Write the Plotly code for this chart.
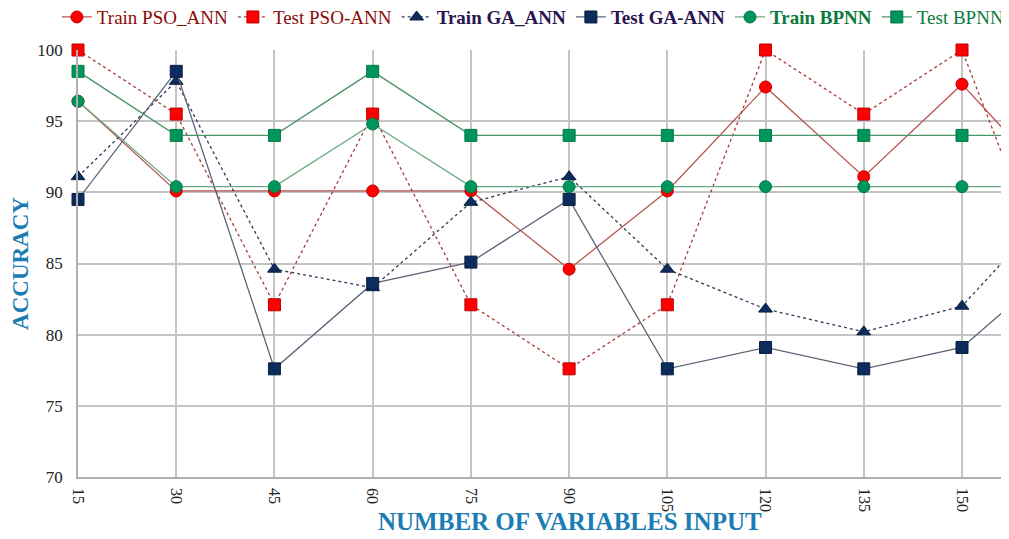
import plotly.graph_objects as go

x_vals = [15, 30, 45, 60, 75, 90, 105, 120, 135, 150, 165]
x_ticks = [15, 30, 45, 60, 75, 90, 105, 120, 135, 150]

train_pso = [96.4, 90.1, 90.1, 90.1, 90.1, 84.6, 90.1, 97.4, 91.1, 97.6, 90.1]
test_pso = [100.0, 95.5, 82.1, 95.5, 82.1, 77.6, 82.1, 100.0, 95.5, 100.0, 82.1]
train_ga = [91.1, 97.8, 84.6, 83.3, 89.3, 91.1, 84.6, 81.8, 80.2, 82.0, 89.5]
test_ga = [89.5, 98.5, 77.6, 83.6, 85.1, 89.5, 77.6, 79.1, 77.6, 79.1, 85.1]
train_bp = [96.4, 90.4, 90.4, 94.8, 90.4, 90.4, 90.4, 90.4, 90.4, 90.4, 90.4]
test_bp = [98.5, 94.0, 94.0, 98.5, 94.0, 94.0, 94.0, 94.0, 94.0, 94.0, 94.0]

FONT = "Liberation Serif, Times New Roman, serif"

series = [
    ("<span style='color:#8b0a0a'>Train PSO_ANN</span>", train_pso, "circle", "#ff0000", "#c00000", "#b85450", "solid"),
    ("<span style='color:#8b0a0a'>Test PSO-ANN</span>", test_pso, "square", "#ff0000", "#c00000", "#a83a3a", "dot"),
    ("<span style='color:#2a1450'><b>Train GA_ANN</b></span>", train_ga, "triangle-up", "#0c2d5c", "#0a1f40", "#2e3a58", "dot"),
    ("<span style='color:#2a1450'><b>Test GA-ANN</b></span>", test_ga, "square", "#0c2d5c", "#0a1f40", "#5a6478", "solid"),
    ("<span style='color:#0a7a3a'><b>Train BPNN</b></span>", train_bp, "circle", "#00955a", "#007a45", "#6aa880", "solid"),
    ("<span style='color:#0a7a3a'>Test BPNN</span>", test_bp, "square", "#00955a", "#007a45", "#4a9468", "solid"),
]

fig = go.Figure()
for name, vals, sym, mfill, medge, lcol, dash in series:
    fig.add_trace(go.Scatter(
        x=x_vals, y=vals, name=name, mode="lines+markers",
        line=dict(color=lcol, width=1.3, dash=dash),
        marker=dict(symbol=sym, size=12, color=mfill, line=dict(color=medge, width=1)),
        cliponaxis=False,
    ))

# page body has an 8px default margin; offsets below compensate for it
fig.update_layout(
    width=1009, height=539,
    margin=dict(l=70, r=0, t=42, b=70, autoexpand=False),
    paper_bgcolor="white", plot_bgcolor="white",
    font=dict(family=FONT, size=16, color="#222222"),
    showlegend=True,
    legend=dict(
        orientation="h", x=-0.0225, xanchor="left", y=1.077, yanchor="middle",
        font=dict(family=FONT, size=19),
        itemwidth=30, bgcolor="rgba(0,0,0,0)",
    ),
    annotations=[dict(
        text="<b>NUMBER OF VARIABLES INPUT</b>", xref="paper", yref="paper",
        x=0.5235, y=-0.105, xanchor="center", yanchor="middle", showarrow=False,
        font=dict(family=FONT, size=25, color="#1a7db3"),
    )],
)

fig.update_xaxes(
    range=[15, 158.4], tickmode="array", tickvals=x_ticks,
    ticktext=[str(v) for v in x_ticks], tickangle=90,
    showgrid=True, gridcolor="#c4c4c4", gridwidth=1.5,
    showline=True, linecolor="#b0b0b0", linewidth=1.5,
    zeroline=False, ticks="outside", ticklen=6, tickcolor="rgba(0,0,0,0)",
    tickfont=dict(family=FONT, size=16, color="#222222"),
)
fig.update_yaxes(
    range=[70, 100], dtick=5, tick0=70,
    showgrid=True, gridcolor="#c4c4c4", gridwidth=1.5,
    showline=True, linecolor="#b0b0b0", linewidth=1.5,
    zeroline=False, ticks="outside", ticklen=10, tickcolor="rgba(0,0,0,0)",
    tickfont=dict(family=FONT, size=17, color="#222222"),
    title=dict(text="<b>ACCURACY</b>", font=dict(family=FONT, size=23, color="#1a7db3"), standoff=6),
)

fig.write_html("out.html")
